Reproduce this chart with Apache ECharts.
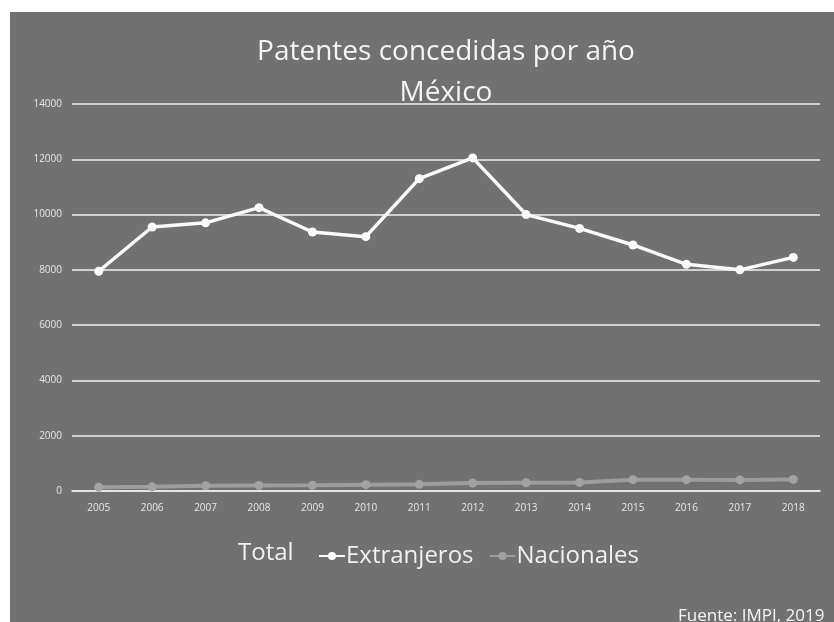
<!DOCTYPE html>
<html>
<head>
<meta charset="utf-8">
<script src="https://cdn.jsdelivr.net/npm/echarts@6/dist/echarts.min.js"></script>
<style>
  html, body { margin: 0; padding: 0; background: #fff; width: 834px; height: 622px; overflow: hidden; }
  #chart { position: absolute; left: 10px; top: 12px; width: 824px; height: 610px; }
</style>
</head>
<body>
<div id="chart"></div>
<script>
const years = ['2005', '2006', '2007', '2008', '2009', '2010', '2011', '2012', '2013', '2014', '2015', '2016', '2017', '2018']
const extranjeros = [7950, 9550, 9700, 10250, 9370, 9200, 11300, 12050, 10000, 9500, 8900, 8200, 8000, 8450]
const nacionales = [140, 150, 190, 200, 210, 230, 245, 290, 300, 310, 410, 410, 400, 420]
const yTicks = [0, 2000, 4000, 6000, 8000, 10000, 12000, 14000]

const chart = echarts.init(document.getElementById('chart'))
const font = '"Open Sans", "Noto Sans", sans-serif'

const option = {
  backgroundColor: '#717171',
  animation: false,
  graphic: [
    {
      type: 'text',
      x: 436,
      y: 26,
      style: { text: 'Patentes concedidas por año', fill: '#f4f4f4', font: '28px ' + font, textAlign: 'center', textVerticalAlign: 'top' }
    },
    {
      type: 'text',
      x: 436,
      y: 67,
      style: { text: 'México', fill: '#f4f4f4', font: '28px ' + font, textAlign: 'center', textVerticalAlign: 'top' }
    },
    {
      type: 'text',
      left: 228,
      top: 529,
      style: { text: 'Total', fill: '#f0f0f0', font: '24px ' + font }
    },
    {
      type: 'text',
      left: 668,
      top: 596,
      style: { text: 'Fuente: IMPI, 2019', fill: '#f5f5f5', font: '17px ' + font }
    }
  ],
  legend: {
    left: 303,
    top: 527,
    itemGap: 15,
    itemWidth: 26,
    itemHeight: 10,
    data: ['Extranjeros', 'Nacionales'],
    textStyle: { color: '#f0f0f0', fontSize: 24, fontFamily: font, padding: [0, 0, 0, -4] }
  },
  grid: {
    left: 62,
    right: 14,
    top: 92,
    bottom: 131
  },
  xAxis: {
    type: 'category',
    data: years,
    axisLine: { show: true, lineStyle: { color: '#ececec', width: 1.5 } },
    axisTick: { show: false },
    axisLabel: { color: '#e6e6e6', fontSize: 10, margin: 12, fontFamily: font }
  },
  yAxis: {
    type: 'value',
    min: yTicks[0],
    max: yTicks[yTicks.length - 1],
    interval: 2000,
    axisLine: { show: false },
    axisTick: { show: false },
    axisLabel: { color: '#e6e6e6', fontSize: 10, margin: 10, fontFamily: font, formatter: v => String(v) },
    splitLine: { lineStyle: { color: '#f2f2f2', width: 1.5 } }
  },
  series: [
    {
      name: 'Extranjeros',
      type: 'line',
      data: extranjeros,
      symbol: 'circle',
      symbolSize: 9,
      lineStyle: { color: '#fafafa', width: 3.5 },
      itemStyle: { color: '#fafafa' }
    },
    {
      name: 'Nacionales',
      type: 'line',
      data: nacionales,
      symbol: 'circle',
      symbolSize: 9,
      lineStyle: { color: '#9c9c9c', width: 4 },
      itemStyle: { color: '#a2a2a2' }
    }
  ]
}

chart.setOption(option)
</script>
</body>
</html>
